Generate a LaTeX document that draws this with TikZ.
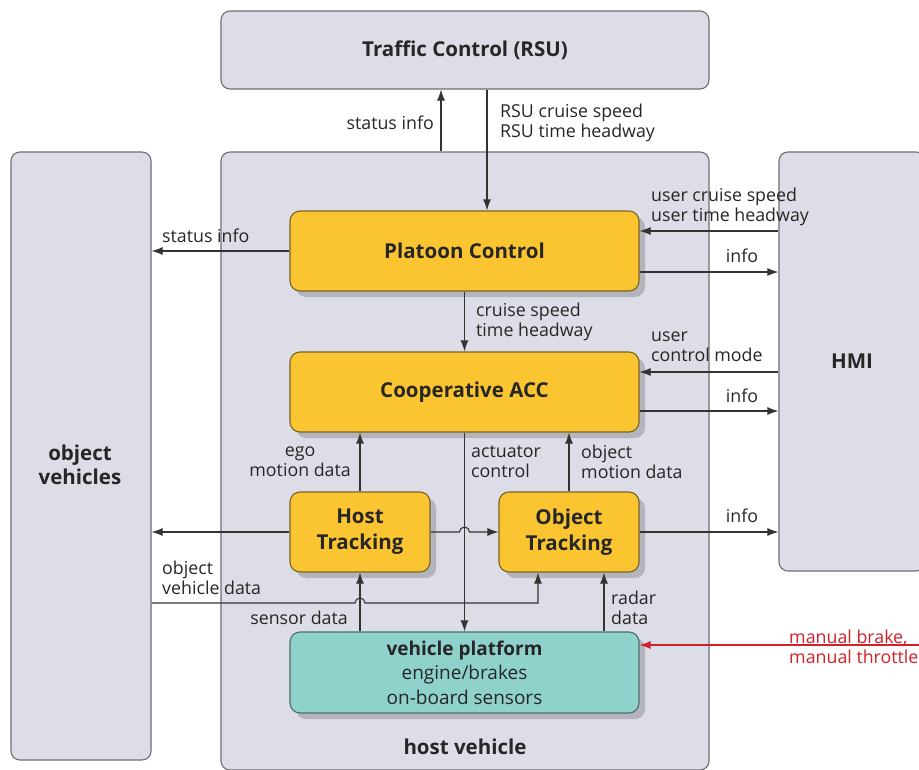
\documentclass[tikz,border=0pt]{standalone}
\usepackage{fontspec}
\setmainfont{Open Sans}
\usetikzlibrary{arrows.meta,shadows}

\definecolor{panelgray}{HTML}{DCDDE6}
\definecolor{panelline}{HTML}{6E6E73}
\definecolor{blockyellow}{HTML}{FBC531}
\definecolor{blockline}{HTML}{7A6322}
\definecolor{blockteal}{HTML}{8FD1CB}
\definecolor{tealline}{HTML}{4C6E6B}
\definecolor{wire}{HTML}{333333}
\definecolor{manualred}{HTML}{D0202A}

\begin{document}
\begin{tikzpicture}[x=1pt,y=-1pt,
	panel/.style={draw=panelline, fill=panelgray, rounded corners=9pt, line width=1.1pt,
		font=\fontsize{20.5}{24}\selectfont\bfseries, text=black!85},
	title/.style={font=\fontsize{20.5}{24}\selectfont\bfseries, text=black!85, align=center},
	block/.style={draw=blockline, fill=blockyellow, rounded corners=10pt, line width=1.1pt,
		drop shadow={shadow xshift=6pt, shadow yshift=-6pt, fill=black, opacity=0.18},
		font=\fontsize{20.5}{26}\selectfont\bfseries, align=center, text=black!85},
	lbl/.style={font=\fontsize{17.8}{20}\selectfont, inner sep=0pt, text=black!85},
	link/.style={draw=wire, line width=1.1pt, -{Latex[length=11pt,width=8pt]}}]

	\useasboundingbox (0,0) rectangle (919,769);

	% outer panels
	\node[panel, minimum width=488pt, minimum height=78pt] (rsu) at (465,50) {Traffic Control (RSU)};
	\node[panel, minimum width=140pt, minimum height=608pt] (objv) at (81,456) {};
	\node[title] (objvname) at (80,465) {object\\vehicles};
	\node[panel, minimum width=488pt, minimum height=618pt] (host) at (465,461) {};
	\node[panel, minimum width=146pt, minimum height=419pt] (hmi) at (852,361.5) {HMI};
	\node[title] (hostname) at (465,747) {host vehicle};

	% functional blocks
	\node[block, minimum width=349pt, minimum height=80pt] (plat) at (464.5,251) {Platoon Control};
	\node[block, minimum width=349pt, minimum height=80pt] (cacc) at (464.5,392) {Cooperative ACC};
	\node[block, minimum width=140pt, minimum height=80pt] (ht) at (360,532) {Host\\Tracking};
	\node[block, minimum width=140pt, minimum height=80pt] (ot) at (569,532) {Object\\Tracking};
	\node[block, fill=blockteal, draw=tealline, minimum width=349pt, minimum height=81pt,
		font=\fontsize{19}{24.5}\selectfont] (vp) at (464.5,672.5)
		{\textbf{vehicle platform}\\engine/brakes\\on-board sensors};

	% connectors
	\draw[link] ([xshift=-24pt]host.north) -- ([xshift=-24pt]rsu.south);
	\draw[link] ([xshift=22pt]rsu.south) -- ([xshift=22pt]rsu.south |- plat.north);
	\draw[link] (plat.west) -- (plat.west -| objv.east);
	\draw[link] ([yshift=20pt]plat.east -| hmi.west) -- ([yshift=20pt]plat.east);
	\draw[link] ([yshift=-21pt]plat.east) -- ([yshift=-21pt]plat.east -| hmi.west);
	\draw[link] (plat.south) -- (cacc.north);
	\draw[link] ([yshift=20pt]cacc.east -| hmi.west) -- ([yshift=20pt]cacc.east);
	\draw[link] ([yshift=-19pt]cacc.east) -- ([yshift=-19pt]cacc.east -| hmi.west);
	\draw[link] (ht.north) -- (ht.north |- cacc.south);
	\draw[link] (ot.north) -- (ot.north |- cacc.south);
	\draw[link] (cacc.south) -- (vp.north);
	\draw[link] (ht.west) -- (ht.west -| objv.east);
	\draw[link] (ht.east) -- ([xshift=-5pt]ht.east -| cacc.south)
		arc[start angle=180, end angle=0, radius=5pt] -- (ot.west);
	\draw[link] (ot.east) -- (ot.east -| hmi.west);
	\draw[link] ([yshift=-147pt]objv.east) coordinate (ovd) -- ([xshift=-5pt]ovd -| ht.south)
		arc[start angle=180, end angle=0, radius=5pt] -- ([xshift=-31pt]ot.south |- ovd)
		-- ([xshift=-31pt]ot.south);
	\draw[link] (vp.north -| ht.south) -- (ht.south);
	\draw[link] ([xshift=35pt]ot.south |- vp.north) -- ([xshift=35pt]ot.south);
	\coordinate (driver) at (919,645);
	\draw[link, draw=manualred] (driver) -- (driver -| vp.east);

	% labels
	\node[lbl, anchor=east] (lstatus) at (434,123) {status info};
	\node[lbl, anchor=west, align=left] (lrsu) at (500,123) {RSU cruise speed\\RSU time headway};
	\node[lbl, anchor=west] (lstatusov) at (162,236) {status info};
	\node[lbl, anchor=west, align=left] (luser) at (651,207) {user cruise speed\\user time headway};
	\node[lbl] (linfoa) at (742,256) {info};
	\node[lbl, anchor=west, align=left] (lcruise) at (476,321.5) {cruise speed\\time headway};
	\node[lbl, anchor=west, align=left] (lmode) at (651,347) {user\\control mode};
	\node[lbl] (linfob) at (742,396) {info};
	\node[lbl, anchor=east, align=center] (lego) at (351,462) {ego\\motion data};
	\node[lbl, anchor=west, align=left] (lact) at (471,462) {actuator\\control};
	\node[lbl, anchor=west, align=left] (lobjm) at (581,462) {object\\motion data};
	\node[lbl] (linfoc) at (742,516) {info};
	\node[lbl, anchor=west, align=left] (lovd) at (162,578) {object\\vehicle data};
	\node[lbl, anchor=east] (lsensor) at (348,618) {sensor data};
	\node[lbl, anchor=west, align=left] (lradar) at (611,608) {radar\\data};
	\node[lbl, anchor=west, align=left, text=manualred] (lmanual) at (789,646.5) {manual brake,\\manual throttle};
\end{tikzpicture}
\end{document}
